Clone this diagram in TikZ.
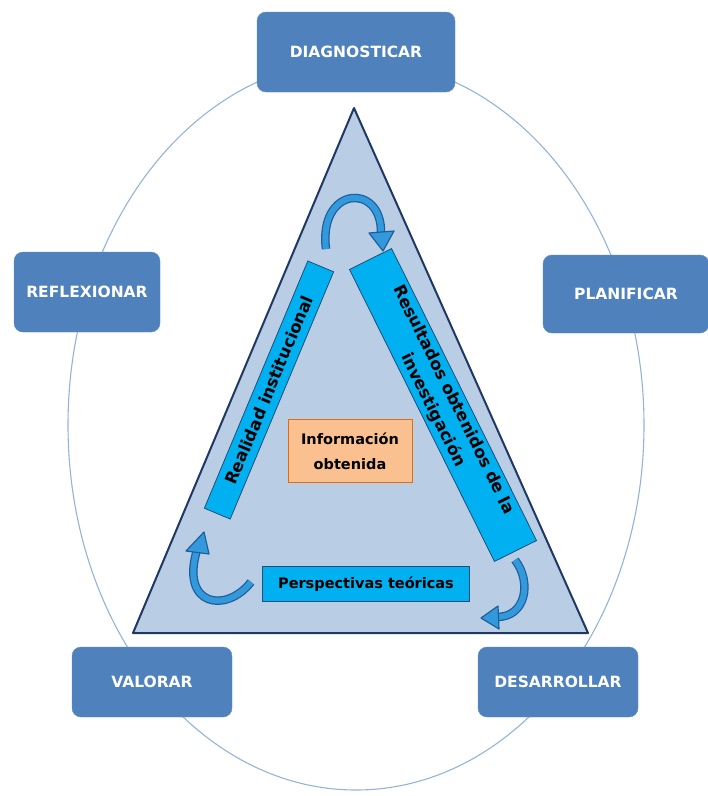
\documentclass[tikz,border=0pt]{standalone}
\usepackage{fontspec}
\setmainfont{DejaVu Sans}
\definecolor{boxblue}{HTML}{4F81BD}
\definecolor{boxedge}{HTML}{5A8AC4}
\definecolor{ringblue}{HTML}{95B3D7}
\definecolor{trifill}{HTML}{B9CDE5}
\definecolor{triedge}{HTML}{1F3864}
\definecolor{barcyan}{HTML}{00B0F0}
\definecolor{bardark}{HTML}{1F4E79}
\definecolor{orangefill}{HTML}{FAC090}
\definecolor{orangeedge}{HTML}{E46C0A}
\definecolor{arrowfill}{HTML}{3399DD}
\definecolor{arrowedge}{HTML}{1F5E99}
\tikzset{
  phase/.style={draw=boxedge, fill=boxblue, rounded corners=9pt, text=white,
    font=\bfseries\fontsize{15.5}{18}\selectfont, minimum height=80pt, inner sep=0pt},
  bar/.style={draw=bardark, fill=barcyan, line width=0.8pt, align=center, inner sep=0pt,
    font=\bfseries\fontsize{14.5}{22}\selectfont},
  rotbar/.style={bar, font=\bfseries\fontsize{16.5}{23}\selectfont},
  arcout/.style={draw=arrowedge, line width=8.5pt},
  arcin/.style={draw=arrowfill, line width=6pt},
  arrowhead/.style={draw=arrowedge, fill=arrowfill, line width=1.2pt, line join=round}
}
\begin{document}
\begin{tikzpicture}[x=1pt, y=-1pt]
\useasboundingbox (0,0) rectangle (708,796);
% ring
\draw[ringblue, line width=1.1pt] (356,425) ellipse (288 and 365);
% phase boxes
\node[phase, minimum width=198pt] (diag) at (356,52) {DIAGNOSTICAR};
\node[phase, minimum width=146pt] (refl) at (87,292) {REFLEXIONAR};
\node[phase, minimum width=166pt, minimum height=78pt] (plan) at (626,294) {PLANIFICAR};
\node[phase, minimum width=160pt, minimum height=70pt] (valo) at (152,682) {VALORAR};
\node[phase, minimum width=160pt, minimum height=70pt] (desa) at (558,682) {DESARROLLAR};
% triangle
\draw[triedge, fill=trifill, line width=2pt, line join=round] (354,108) -- (588,633) -- (133,633) -- cycle;
% curved arrows
\path[arcout] (326,249) .. controls (318,186) and (382,182) .. (381,233);
\path[arcin]  (326,249) .. controls (318,186) and (382,182) .. (381,233);
\draw[arrowhead] (369,233) -- (394,231) -- (383,251) -- cycle;
\path[arcout] (251,582) .. controls (226,614) and (180,606) .. (197,550);
\path[arcin]  (251,582) .. controls (226,614) and (180,606) .. (197,550);
\draw[arrowhead] (186,551) -- (209,554) -- (204,532) -- cycle;
\path[arcout] (515,560) .. controls (532,582) and (526,617) .. (497,617);
\path[arcin]  (515,560) .. controls (532,582) and (526,617) .. (497,617);
\draw[arrowhead] (498,606) -- (499,629) -- (481,618) -- cycle;
% inner boxes
\node[draw=orangeedge, fill=orangefill, line width=0.8pt, minimum width=124pt, minimum height=63pt,
  inner sep=0pt, align=center, font=\bfseries\fontsize{14.5}{25}\selectfont] (info) at (350,451) {Información\\obtenida};
\node[bar, minimum width=207pt, minimum height=35pt] (persp) at (366,584) {Perspectivas teóricas};
\node[rotbar, minimum width=268pt, minimum height=28pt, rotate=67.3] (real) at (269,390) {Realidad institucional};
\node[rotbar, minimum width=326pt, minimum height=47pt, rotate=-63.6] (resu) at (443,405) {Resultados obtenidos de la\\investigación};
\end{tikzpicture}
\end{document}
